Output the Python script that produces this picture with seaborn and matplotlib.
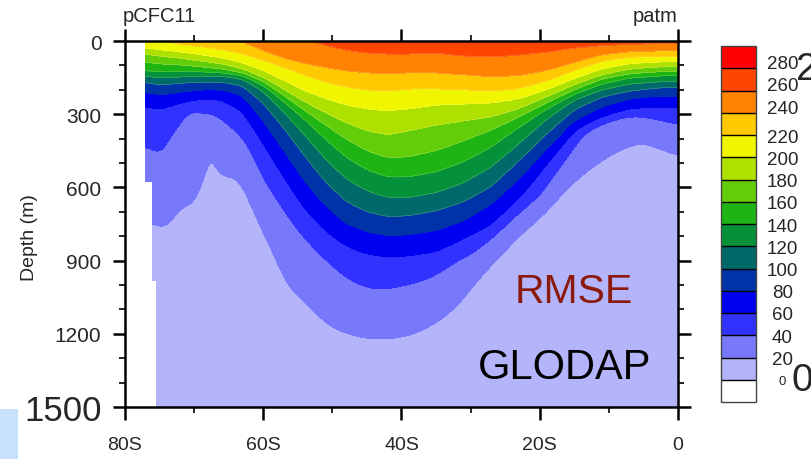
import numpy as np
import matplotlib
matplotlib.use("Agg")
import matplotlib.pyplot as plt
from matplotlib.colors import ListedColormap, BoundaryNorm
from matplotlib.patches import Rectangle
from matplotlib.ticker import MultipleLocator
import seaborn as sns

# ---------------------------------------------------------------------------
# Zonal section of pCFC11 (patm): depth (m) of each isoline along latitude.
# Negative depths mean the isoline lies above the sea surface there.
# ---------------------------------------------------------------------------
lat_nodes = [-77, -75, -72, -69, -66, -63, -60, -57, -54, -51, -48, -45,
             -42, -39, -35, -31, -27, -23, -19, -15, -11, -7, -3, 0]

iso_260 = [-131, -115, -98, -82, -65, -49, -33, -20, -8, 16, 37, 49,
           53, 53, 49, 61, 65, 57, 45, 29, 20, 16, 12, 12]
iso_240 = [-82, -70, -53, -37, -20, 4, 41, 74, 94, 110, 123, 131,
           135, 131, 131, 139, 147, 143, 123, 90, 57, 45, 41, 41]
iso_220 = [-12, 0, 16, 25, 37, 53, 78, 106, 139, 168, 188, 200,
           205, 196, 196, 200, 205, 196, 164, 119, 82, 65, 65, 65]
iso_200 = [29, 37, 45, 57, 70, 90, 123, 164, 205, 237, 262, 278,
           286, 278, 262, 258, 254, 237, 200, 155, 115, 94, 86, 86]
iso_180 = [53, 61, 70, 82, 94, 115, 151, 200, 250, 295, 336, 368,
           385, 368, 344, 327, 311, 278, 229, 180, 139, 115, 106, 106]
iso_160 = [86, 94, 98, 106, 115, 131, 168, 225, 286, 344, 401, 450,
           479, 475, 450, 409, 364, 311, 254, 200, 155, 135, 127, 123]
iso_140 = [123, 127, 127, 127, 131, 143, 180, 246, 319, 401, 475, 528,
           557, 557, 536, 495, 434, 352, 278, 217, 176, 151, 143, 139]
iso_120 = [143, 151, 147, 143, 143, 155, 205, 291, 385, 483, 565, 614,
           642, 642, 622, 581, 516, 421, 319, 241, 200, 176, 168, 164]
iso_100 = [168, 180, 172, 168, 168, 184, 254, 356, 471, 577, 659, 700,
           720, 716, 696, 659, 597, 491, 381, 282, 229, 205, 192, 188]
iso_80 = [209, 221, 209, 200, 200, 221, 327, 450, 573, 675, 749, 782,
          798, 794, 777, 737, 667, 565, 442, 327, 270, 237, 225, 225]
iso_60 = [266, 278, 254, 237, 241, 286, 417, 557, 687, 777, 839, 872,
          884, 880, 863, 810, 753, 647, 503, 368, 311, 278, 270, 270]

lat_40 = [-77.1, -76, -75, -74, -73, -72, -71, -70, -68, -67, -66, -65,
          -64, -63, -62, -61, -60, -58, -56, -54, -52, -50, -48, -46,
          -44, -42, -40, -38, -36, -34, -32, -30, -28, -26, -24, -22,
          -20, -18, -16, -14, -12, -10, -8, -6, -4, -2, 0]
iso_40 = [434, 442, 462, 413, 368, 319, 291, 286, 295, 299, 315, 340,
          364, 393, 434, 495, 557, 647, 728, 802, 863, 917, 966, 998,
          1015, 1015, 1003, 990, 970, 937, 900, 872, 831, 782, 728, 679,
          634, 552, 471, 385, 348, 327, 311, 307, 315, 327, 340]

lat_20 = [-77.1, -76, -75, -74, -73, -72, -71, -70, -69.5, -69, -68.5,
          -68, -67.5, -67, -66, -65, -64, -63, -62, -61, -60, -59, -58,
          -57, -56, -54, -52, -50, -48, -46, -44, -42, -40, -38, -36,
          -34, -32, -30, -28, -26, -24, -22, -20, -18, -16, -14, -12,
          -10, -8, -6, -5, -3, -1.5, 0]
iso_20 = [737, 741, 761, 753, 712, 679, 675, 647, 614, 565, 503,
          471, 471, 483, 540, 557, 552, 577, 626, 696, 761, 823, 884,
          953, 1007, 1064, 1121, 1170, 1195, 1211, 1219, 1219, 1211, 1195, 1166,
          1129, 1076, 1003, 933, 876, 810, 761, 708, 647, 589, 540, 499,
          462, 434, 417, 413, 430, 446, 462]

# western edge of the section (Antarctic shelf), by depth
shelf_top = [0, 577, 982]
shelf_lat = [-77.1, -76.05, -75.56]

# colour scale
bounds = list(range(-20, 320, 20))
fill_colors = ["#FFFFFF", "#B4B4FA", "#7878FA", "#3232FF", "#0000F0",
               "#0033A8", "#006969", "#05913A", "#1EB414", "#64CD0A",
               "#AFE100", "#F0F500", "#FFC800", "#FF8200", "#FF4600",
               "#FF0000"]
cbar_labels = ["0", "20", "40", "60", "80", "100", "120", "140", "160",
               "180", "200", "220", "240", "260", "280"]
# label anchors on the colour bar (the top three sit a little high)
cbar_label_pos = [0, 20, 40, 60, 80, 100, 120, 140, 160, 180, 200, 220,
                  246, 266, 286]

x_ticks = [-80, -60, -40, -20, 0]
x_labels = ["80S", "60S", "40S", "20S", "0"]
y_ticks = [0, 300, 600, 900, 1200, 1500]
y_labels = ["0", "300", "600", "900", "1200", "1500"]

# ---------------------------------------------------------------------------
# Build the gridded field from the isoline depths
# ---------------------------------------------------------------------------
lat = np.round(np.arange(-77.1, 0.0001, 0.1), 3)
dep = np.arange(0.0, 1500.1, 2.0)

upper_levels = [260, 240, 220, 200, 180, 160, 140, 120, 100, 80, 60]
upper_depths = [iso_260, iso_240, iso_220, iso_200, iso_180, iso_160,
                iso_140, iso_120, iso_100, iso_80, iso_60]
rows = [np.interp(lat, lat_nodes, d) for d in upper_depths]
rows.append(np.interp(lat, lat_40, iso_40))
rows.append(np.interp(lat, lat_20, iso_20))
iso = np.vstack(rows)
vals = np.array(upper_levels + [40, 20], dtype=float)

field = np.empty((dep.size, lat.size))
for j in range(lat.size):
    kd = np.concatenate([[iso[0, j] - 60.0], iso[:, j], [1600.0]])
    kd = np.maximum.accumulate(kd + np.arange(kd.size) * 1e-6)
    kv = np.concatenate([[280.0], vals, [5.0]])
    field[:, j] = np.interp(dep, kd, kv)


def smooth(a, sigma, axis):
    r = int(3 * sigma)
    k = np.exp(-0.5 * (np.arange(-r, r + 1) / sigma) ** 2)
    k /= k.sum()
    pad = [(0, 0)] * a.ndim
    pad[axis] = (r, r)
    ap = np.pad(a, pad, mode="edge")
    return np.apply_along_axis(lambda v: np.convolve(v, k, mode="valid"), axis, ap)


field = smooth(field, 6, axis=1)
field = smooth(field, 3, axis=0)

idx = np.searchsorted(shelf_top, dep, side="right") - 1
west = np.array(shelf_lat)[idx]
field = np.ma.masked_where(lat[None, :] < west[:, None] - 1e-9, field)

# ---------------------------------------------------------------------------
# Figure
# ---------------------------------------------------------------------------
sns.set_style("ticks")
plt.rcParams["font.family"] = ["Liberation Sans", "DejaVu Sans"]
plt.rcParams["axes.linewidth"] = 1.8

cmap = ListedColormap(sns.color_palette(fill_colors))
norm = BoundaryNorm(bounds, cmap.N)

fig = plt.figure(figsize=(8.12, 4.60), dpi=100)
ax = fig.add_axes([125 / 812, 1 - 408 / 460, 553 / 812, 366 / 460])
cax = fig.add_axes([721 / 812, 1 - 403 / 460, 35 / 812, 356 / 460])

cf = ax.contourf(lat, dep, field, levels=bounds, cmap=cmap, norm=norm)
# faint seams between the filled bands
ax.contour(lat, dep, field, levels=bounds[6:-2], colors="white",
           linewidths=0.4, alpha=0.3)

ax.set_xlim(-80, 0)
ax.set_ylim(1500, 0)
ax.set_xticks(x_ticks)
ax.set_xticklabels(x_labels)
ax.set_yticks(y_ticks)
ax.set_yticklabels(y_labels)
ax.xaxis.set_minor_locator(MultipleLocator(10))
ax.yaxis.set_minor_locator(MultipleLocator(100))
ax.tick_params(which="both", direction="out", top=True, right=True,
               labeltop=False, labelright=False, color="black")
ax.tick_params(which="major", length=9, width=1.8, labelsize=15)
ax.tick_params(axis="y", which="major", pad=8)
ax.tick_params(axis="x", which="major", pad=12, labelsize=14)
ax.tick_params(which="minor", length=4.5, width=1.2)
for sp in ax.spines.values():
    sp.set_visible(True)
    sp.set_color("black")
ax.set_facecolor("white")
for t in ax.get_yticklabels():
    if t.get_text() == "1500":
        t.set_fontsize(25)

cb = fig.colorbar(cf, cax=cax, drawedges=True)
cb.set_ticks(cbar_label_pos)
cb.set_ticklabels(cbar_labels)
cax.minorticks_off()
cb.dividers.set_color("black")
cb.dividers.set_linewidth(1.0)
cb.outline.set_edgecolor("#444444")
cb.outline.set_linewidth(1.0)
cax.tick_params(which="both", length=0, width=0, labelsize=13.5, pad=19)
for t in cax.get_yticklabels():
    t.set_horizontalalignment("center")
    if t.get_text() == "0":
        t.set_fontsize(9.5)

fig.text(123 / 812, 1 - 17 / 460, "pCFC11", ha="left", va="center", fontsize=14.5)
fig.text(678 / 812, 1 - 17 / 460, "patm", ha="right", va="center", fontsize=14.5)
fig.text(30 / 812, 1 - 238 / 460, "Depth (m)", rotation=90, ha="center",
         va="center", fontsize=14)

ax.text(0.812, 0.317, "RMSE", transform=ax.transAxes, ha="center",
        va="center", fontsize=29.5, color="#8B1A0C")
ax.text(0.951, 0.109, "GLODAP", transform=ax.transAxes, ha="right",
        va="center", fontsize=30, color="black")

fig.text(796 / 812, 1 - 70 / 460, "2", ha="left", va="center", fontsize=28)
fig.text(792 / 812, 1 - 381 / 460, "0", ha="left", va="center", fontsize=28)

fig.patches.append(Rectangle((0, 0), 18 / 812, 50 / 460, transform=fig.transFigure,
                             facecolor="#C8E1FA", edgecolor="none"))

fig.savefig("out.png", dpi=100)
